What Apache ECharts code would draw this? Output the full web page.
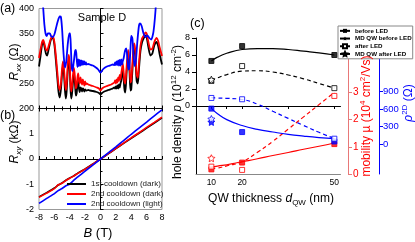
<!DOCTYPE html>
<html><head><meta charset="utf-8">
<script src="https://cdn.jsdelivr.net/npm/echarts@6/dist/echarts.min.js"></script>
<style>html,body{margin:0;padding:0;background:#fff}#c{width:415px;height:242px}</style>
</head><body><div id="c"></div><script>
// ---- Panel (a): Rxx vs B ----
const bGrid = [
 -8.0,-7.8,-7.6,-7.45,-7.3,-7.1,-6.95,-6.75,-6.5,-6.3,
 -6.15,-6.0,-5.8,-5.6,-5.45,-5.3,-5.15,-5.0,-4.88,-4.75,
 -4.6,-4.5,-4.4,-4.25,-4.14,-4.0,-3.9,-3.8,-3.7,-3.55,
 -3.45,-3.3,-3.2,-3.1,-3.0,-2.9,-2.8,-2.7,-2.6,-2.5,
 -2.4,-2.3,-2.2,-2.1,-2.0,-1.9,-1.8,-1.6,-1.4,-1.0,
 -0.5,-0.2,0,0.2,0.5,1.0,1.4,1.6,1.8,1.9,
 2.0,2.1,2.2,2.3,2.4,2.5,2.6,2.7,2.8,2.9,
 3.0,3.1,3.2,3.3,3.45,3.6,3.75,3.9,4.0,4.15,
 4.35,4.5,4.7,4.85,5.0,5.2,5.4,5.6,5.85,6.0,
 6.2,6.5,6.75,7.0,7.3,7.5,7.7,8.0];
const rxxBlack = [
 284,305,328,334,325,310,306,318,335,341,
 340,328,295,258,232,222,238,270,285,268,
 232,220,235,278,298,280,238,220,230,258,
 268,245,226,230,248,254,240,233,242,240,
 234,240,238,234,238,236,236,237,236,235,
 233,231,228,231,234,237,239,240,242,240,
 244,240,246,240,248,242,250,256,268,278,
 262,240,232,245,285,305,282,236,238,275,
 322,310,255,250,278,315,332,340,346,343,
 325,306,310,326,333,325,308,288];
const rxxRed = [
 301,318,333,337,330,318,316,325,338,344,
 343,333,305,270,245,237,250,280,294,280,
 248,237,250,290,307,290,250,234,245,272,
 281,258,240,245,262,270,255,250,262,255,
 248,258,252,246,254,248,250,248,247,245,
 242,240,236,240,243,246,248,250,252,256,
 250,258,252,262,255,267,258,270,280,290,
 275,255,250,262,295,317,295,252,255,290,
 330,320,268,262,290,325,340,345,352,350,
 335,318,320,333,341,335,322,305];
const bGridBlue = [
 -7.6,-7.45,-7.3,-7.15,-7.0,-6.85,-6.6,-6.4,-6.2,-6.0,
 -5.8,-5.55,-5.3,-5.15,-5.0,-4.85,-4.7,-4.6,-4.45,-4.25,
 -4.05,-3.95,-3.85,-3.75,-3.65,-3.5,-3.3,-3.2,-3.1,-3.0,
 -2.9,-2.8,-2.7,-2.6,-2.5,-2.4,-2.3,-2.2,-2.1,-2.0,
 -1.9,-1.8,-1.6,-1.4,-1.0,-0.6,-0.3,0,0.3,0.6,
 1.0,1.4,1.6,1.8,1.9,2.0,2.1,2.2,2.3,2.4,
 2.5,2.6,2.7,2.8,2.9,3.0,3.2,3.35,3.5,3.65,
 3.75,3.9,4.0,4.15,4.3,4.45,4.6,4.8,5.0,5.15,
 5.35,5.6,5.85,6.1,6.35,6.6,6.85,7.0,7.15,7.3];
const rxxBlue = [
 430,400,368,350,345,350,350,344,343,348,
 360,375,384,383,360,320,290,282,295,330,
 350,350,320,285,275,290,315,317,300,283,
 298,285,297,286,296,287,295,288,294,288,
 292,288,289,288,286,282,278,272,278,282,
 285,287,288,287,292,287,294,287,296,286,
 297,286,298,288,295,300,316,320,300,278,
 280,320,345,340,305,285,295,335,365,370,
 365,350,343,346,341,338,350,368,395,430];

// ---- Panel (b): Rxy vs B ----
const bHall = [-8,-7,-6,-5.5,-5,-4.5,-4,-3.5,-3,-2,-1,0,1,2,3,4,5,6,7,8];
const rxyBlack = [-1.50,-1.33,-1.15,-1.03,-0.95,-0.84,-0.75,-0.67,-0.57,-0.39,-0.20,0,0.20,0.41,0.62,0.82,1.02,1.22,1.42,1.63];
const rxyRed   = [-1.52,-1.35,-1.17,-1.02,-0.96,-0.85,-0.76,-0.68,-0.58,-0.40,-0.20,0,0.21,0.42,0.63,0.84,1.04,1.25,1.45,1.66];
const rxyBlue  = [-1.76,-1.56,-1.37,-1.25,-1.17,-1.06,-0.99,-0.85,-0.72,-0.48,-0.24,0,0.24,0.48,0.73,0.98,1.22,1.46,1.71,1.95];
const seriesNames = ['1st cooldown (dark)','2nd cooldown (dark)','2nd cooldown (light)'];

// ---- Panel (c): vs QW thickness ----
const dQW = [10, 20, 50];
const pBefore = [5.3, 7.05, 6.0];
const pAfter = [2.95, 4.7, 2.1];
const muBefore = [0.17, 0.42, 1.1];
const muAfter = [0.27, 0.15, 2.87];
const rhoBefore = [606, 209, 50];
const rhoAfter = [786, 764, 97];
const dMD = [10];
const pMdAfter = [3.1];
const muMdAfter = [0.58];
const rhoMdBefore = [380];
const rhoMdAfter = [430];
const fitX = [10,12,15,20,25,30,35,40,45,50];
const pBeforeFit = [5.3,5.75,6.2,6.65,6.75,6.75,6.65,6.45,6.25,6.0];
const pAfterFit = [3.0,3.3,3.7,4.1,4.15,4.0,3.65,3.2,2.65,2.1];
const muBeforeFit = [0.24,0.29,0.34,0.45,0.56,0.68,0.79,0.91,1.02,1.14];
const muAfterFit = [0.2,0.22,0.3,0.45,0.8,1.2,1.65,2.1,2.55,3.0];
const rhoBeforeFit = [610,520,420,320,255,210,170,140,115,97];
const rhoAfterFit = [790,785,780,760,680,560,440,320,205,100];
const legendC = ['before LED','MD QW before LED','after LED','MD QW after LED'];
const xLabelsC = [10, 20, 50];
const xTicksC = [10, 15, 20, 35, 50];
const pTicks = [0, 2, 4, 6, 8];
const muTicks = [0, 1, 2, 3];
const rhoTicks = [0, 300, 600, 900];

const FONT = 'Liberation Sans, Arial, sans-serif';
const pair = (xs, ys) => xs.map((x, i) => [x, ys[i]]);
const STAR = 'path://M0,-10L2.94,-4.05L9.51,-3.09L4.76,1.55L5.88,8.09L0,5L-5.88,8.09L-4.76,1.55L-9.51,-3.09L-2.94,-4.05Z';
const RED = '#ff0000', BLUE = '#0000ff', BLK = '#000000';
const DASH = [4, 3];

const chart = echarts.init(document.getElementById('c'));

function lineS(name, xi, yi, data, color, width, extra) {
  return Object.assign({name, type:'line', xAxisIndex:xi, yAxisIndex:yi, data, showSymbol:false, symbol:'none',
    lineStyle:{color, width}, itemStyle:{color}, animation:false, silent:true}, extra || {});
}
function pts(xi, yi, data, color, symbol, size, filled) {
  return {type:'scatter', xAxisIndex:xi, yAxisIndex:yi, data, symbol, symbolSize:size, z:5,
    itemStyle: filled ? {color, borderColor:color, borderWidth:1} : {color:'#ffffff', borderColor:color, borderWidth:1}};
}
function rot(text, x, y, color, rich) {
  return {type:'text', x, y, rotation:Math.PI/2, z:50,
    style:{text, x:0, y:0, fill:color, align:'center', verticalAlign:'middle', fontFamily:FONT, fontSize:12, rich}};
}
function richBase(color){
  return {
    n:{fontSize:12, fontFamily:FONT, fill:color, color:color, lineHeight:16, verticalAlign:'middle'},
    i:{fontSize:12, fontFamily:FONT, fontStyle:'italic', fill:color, color:color, lineHeight:16, verticalAlign:'middle'},
    sb:{fontSize:8, fontFamily:FONT, fill:color, color:color, lineHeight:16, verticalAlign:'bottom'},
    sbi:{fontSize:8, fontFamily:FONT, fontStyle:'italic', fill:color, color:color, lineHeight:16, verticalAlign:'bottom'},
    sp:{fontSize:8, fontFamily:FONT, fill:color, color:color, lineHeight:16, verticalAlign:'top'}
  };
}

const tickIn = {show:true, inside:true, length:3, lineStyle:{color:BLK}};
const minorIn = {show:true, splitNumber:2, length:2, lineStyle:{color:BLK}};
const axisBlk = {show:true, lineStyle:{color:BLK, width:1}};
const lblFont = {fontFamily:FONT, fontSize:9, color:BLK};

const option = {
  animation:false,
  grid:[
    {left:39, top:8.5, width:123, height:100, show:true, borderColor:'#999', borderWidth:1},
    {left:39, top:108.5, width:123, height:101, show:true, borderColor:'#999', borderWidth:1},
    {left:196, top:38, width:144.5, height:136}
  ],
  xAxis:[
    {gridIndex:0, type:'value', min:-8, max:8, interval:2, axisLine:axisBlk, axisTick:tickIn, minorTick:minorIn, axisLabel:{show:false}, splitLine:{show:false}},
    {gridIndex:1, type:'value', min:-8, max:8, interval:2, axisLine:axisBlk, axisTick:tickIn, minorTick:minorIn, axisLabel:Object.assign({margin:4}, lblFont), splitLine:{show:false}},
    {gridIndex:1, type:'value', position:'top', min:-8, max:8, interval:2, axisLine:axisBlk, axisTick:tickIn, minorTick:minorIn, axisLabel:{show:false}, splitLine:{show:false}},
    {gridIndex:2, type:'value', min:5, max:52, axisLine:axisBlk,
      axisTick:{show:true, inside:false, length:3, customValues:xTicksC, lineStyle:{color:BLK}},
      axisLabel:{customValues:xLabelsC, margin:4, fontFamily:FONT, fontSize:8.5, color:BLK}, splitLine:{show:false}},
    {gridIndex:2, type:'value', position:'top', min:5, max:52, axisLine:{show:true, lineStyle:{color:'#888'}}, axisTick:{show:false}, axisLabel:{show:false}, splitLine:{show:false}}
  ],
  yAxis:[
    {gridIndex:0, type:'value', min:200, max:400, interval:50, axisLine:axisBlk, axisTick:tickIn, minorTick:minorIn, axisLabel:Object.assign({margin:5}, lblFont), splitLine:{show:false}},
    {gridIndex:1, type:'value', min:-2, max:2, interval:1, axisLine:axisBlk, axisTick:tickIn, minorTick:minorIn,
      axisLabel:Object.assign({margin:5, formatter:v => v === 2 ? '' : String(v)}, lblFont), splitLine:{show:false}},
    {gridIndex:2, type:'value', min:-8, max:8, position:'left', axisLine:axisBlk,
      axisTick:{show:true, length:4, customValues:pTicks, lineStyle:{color:BLK}},
      axisLabel:{customValues:pTicks, margin:6, fontFamily:FONT, fontSize:9, color:BLK}, splitLine:{show:false}},
    {gridIndex:2, type:'value', min:0, max:5, position:'right', offset:7.5, axisLine:{show:true, lineStyle:{color:'#e87878', width:1}},
      axisTick:{show:true, length:4, customValues:muTicks, lineStyle:{color:'#e87878'}},
      axisLabel:{customValues:muTicks, margin:5, fontFamily:FONT, fontSize:10, color:RED}, splitLine:{show:false}},
    {gridIndex:2, type:'value', min:-500, max:1800, position:'right', offset:38.5, axisLine:{show:true, lineStyle:{color:BLUE, width:1}},
      axisTick:{show:true, length:4, customValues:rhoTicks, lineStyle:{color:BLUE}},
      axisLabel:{customValues:rhoTicks, margin:4, fontFamily:FONT, fontSize:9.5, color:BLUE}, splitLine:{show:false}}
  ],
  legend:[
    {data:seriesNames, orient:'vertical', left:67, top:179, icon:'rect', itemWidth:19, itemHeight:2, itemGap:0, padding:0,
      textStyle:{fontFamily:FONT, fontSize:8, lineHeight:10, color:'#222'}},
    {data:legendC, orient:'vertical', left:338, top:26, itemWidth:10, itemHeight:5, itemGap:0, padding:[1,1,1,1],
      backgroundColor:'#fff', borderColor:'#888', borderWidth:1,
      textStyle:{fontFamily:FONT, fontSize:6.2, fontWeight:'bold', lineHeight:7.7, color:BLK}}
  ],
  series:[
    // (a)
    lineS('Rxx black', 0, 0, pair(bGrid, rxxBlack), BLK, 1.8, {smooth:0.25}),
    lineS('Rxx red', 0, 0, pair(bGrid, rxxRed), RED, 1.8, {smooth:0.25}),
    lineS('Rxx blue', 0, 0, pair(bGridBlue, rxxBlue), BLUE, 1.8, {smooth:0.25}),
    // (b)
    lineS(seriesNames[0], 1, 1, pair(bHall, rxyBlack), BLK, 1.6, {smooth:0.2}),
    lineS(seriesNames[1], 1, 1, pair(bHall, rxyRed), RED, 1.6, {smooth:0.2}),
    lineS(seriesNames[2], 1, 1, pair(bHall, rxyBlue), BLUE, 1.6, {smooth:0.2}),
    // (c) fit lines
    lineS('pfitB', 3, 2, pair(fitX, pBeforeFit), BLK, 1.2, {smooth:true}),
    lineS('pfitA', 3, 2, pair(fitX, pAfterFit), BLK, 1.2, {smooth:true, lineStyle:{color:BLK, width:1.2, type:DASH}}),
    lineS('mufitB', 3, 3, pair(fitX, muBeforeFit), RED, 1.2, {smooth:true}),
    lineS('mufitA', 3, 3, pair(fitX, muAfterFit), RED, 1.2, {smooth:true, lineStyle:{color:RED, width:1.2, type:DASH}}),
    lineS('rhofitB', 3, 4, pair(fitX, rhoBeforeFit), BLUE, 1.2, {smooth:true}),
    lineS('rhofitA', 3, 4, pair(fitX, rhoAfterFit), BLUE, 1.2, {smooth:true, lineStyle:{color:BLUE, width:1.2, type:DASH}}),
    // (c) points
    pts(3, 2, pair(dQW, pBefore), BLK, 'rect', 5, true),
    pts(3, 2, pair(dQW, pAfter), BLK, 'rect', 5, false),
    pts(3, 2, pair(dMD, pMdAfter), BLK, STAR, 7, false),
    pts(3, 3, pair(dQW, muBefore), RED, 'rect', 5, true),
    pts(3, 3, pair(dQW, muAfter), RED, 'rect', 5, false),
    pts(3, 3, pair(dMD, muMdAfter), RED, STAR, 7, false),
    pts(3, 4, pair(dQW, rhoBefore), BLUE, 'rect', 5, true),
    pts(3, 4, pair(dQW, rhoAfter), BLUE, 'rect', 5, false),
    pts(3, 4, pair(dMD, rhoMdBefore), BLUE, STAR, 7, true),
    pts(3, 4, pair(dMD, rhoMdAfter), BLUE, STAR, 7, false),
    // (c) legend entries
    {name:legendC[0], type:'line', xAxisIndex:3, yAxisIndex:2, data:[], symbol:'rect', symbolSize:5, lineStyle:{color:BLK, width:1}, itemStyle:{color:BLK}},
    {name:legendC[1], type:'line', xAxisIndex:3, yAxisIndex:2, data:[], symbol:STAR, symbolSize:6, lineStyle:{color:BLK, width:1}, itemStyle:{color:BLK}},
    {name:legendC[2], type:'line', xAxisIndex:3, yAxisIndex:2, data:[], symbol:'rect', symbolSize:5, lineStyle:{color:BLK, width:1}, itemStyle:{color:'#fff', borderColor:BLK, borderWidth:1}},
    {name:legendC[3], type:'line', xAxisIndex:3, yAxisIndex:2, data:[], symbol:STAR, symbolSize:6, lineStyle:{color:BLK, width:1}, itemStyle:{color:'#fff', borderColor:BLK, borderWidth:1}}
  ],
  graphic:[
    {type:'text', x:0, y:9, style:{text:'(a)', fontFamily:FONT, fontSize:12.5, fill:BLK, verticalAlign:'middle'}},
    {type:'text', x:0, y:116, style:{text:'(b)', fontFamily:FONT, fontSize:12.5, fill:BLK, verticalAlign:'middle'}},
    {type:'text', x:190, y:24, style:{text:'(c)', fontFamily:FONT, fontSize:12.5, fill:BLK, verticalAlign:'middle'}},
    {type:'text', x:102, y:18, style:{text:'Sample D', fontFamily:FONT, fontSize:11, fill:BLK, align:'center', verticalAlign:'middle'}},
    rot('{i|R}{sbi|xx}{n| (Ω)}', 15, 62, BLK, richBase(BLK)),
    rot('{i|R}{sbi|xy}{n| (kΩ)}', 15, 142, BLK, richBase(BLK)),
    {type:'text', x:98, y:233, style:{text:'{i|B}{n| (T)}', x:0, y:0, align:'center', verticalAlign:'middle', rich:Object.assign(richBase(BLK), {i:{fontSize:13, fontStyle:'italic', fontFamily:FONT, fill:BLK}, n:{fontSize:13, fontFamily:FONT, fill:BLK}})}},
    rot('{n|hole density }{i|p}{n| (10}{sp|12}{n| cm}{sp|-2}{n|)}', 178, 112, BLK, richBase(BLK)),
    {type:'text', x:271, y:199, style:{text:'{n|QW thickness }{i|d}{sb|QW}{n| (nm)}', x:0, y:0, align:'center', verticalAlign:'middle', rich:richBase(BLK)}},
    rot('{n|mobility µ (10}{sp|4}{n| cm}{sp|2}{n|/Vs)}', 367, 116, RED, richBase(RED)),
    rot('{i|ρ}{sp|2D}{n| (Ω)}', 409, 103, BLUE, richBase(BLUE))
  ]
};
chart.setOption(option);
</script></body></html>
